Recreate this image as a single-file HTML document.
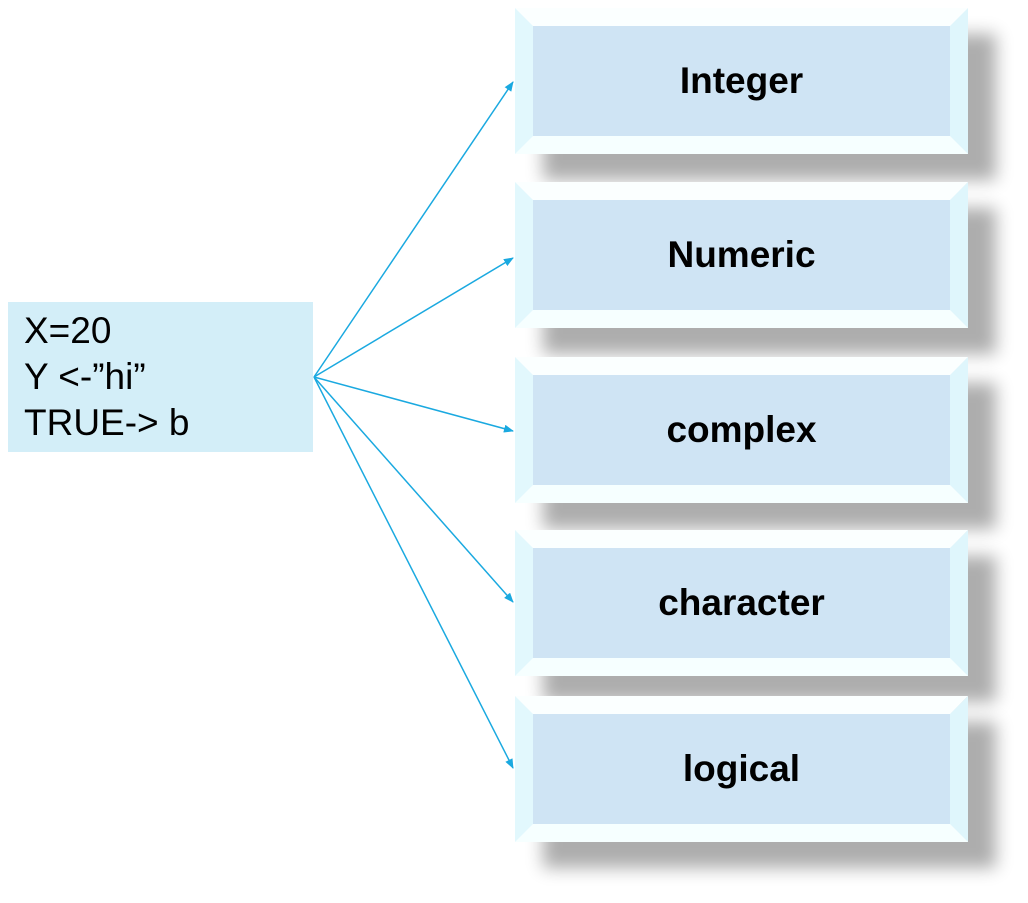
<!DOCTYPE html>
<html><head><style>
body{margin:0;width:1028px;height:903px;background:#fff;position:relative;overflow:hidden;font-family:"Liberation Sans",sans-serif}
.b{position:absolute;left:515px;width:453px;height:146px;box-shadow:28px 26px 16px rgba(0,0,0,0.32)}
.b svg{position:absolute;left:0;top:0}
.f{position:absolute;left:18px;top:18px;right:18px;bottom:18px;display:flex;align-items:center;justify-content:center;font-weight:bold;font-size:37px;color:#000}
.l{position:absolute;left:8px;top:302px;width:305px;height:150px;background:#d3eef8;font-size:37px;line-height:46px;box-sizing:border-box;padding:6px 0 0 16px}
</style></head><body>
<svg style="position:absolute;left:0;top:0" width="1028" height="903">
<defs><marker id="a" markerWidth="10" markerHeight="8" refX="9" refY="4" orient="auto" markerUnits="userSpaceOnUse"><path d="M0,0L10,4L0,8z" fill="#1aa9e0"/></marker></defs>
<g stroke="#1aa9e0" stroke-width="1.5" marker-end="url(#a)">
<line x1="314" y1="377" x2="513" y2="82"/>
<line x1="314" y1="377" x2="513" y2="258"/>
<line x1="314" y1="377" x2="513" y2="431"/>
<line x1="314" y1="377" x2="513" y2="602"/>
<line x1="314" y1="377" x2="513" y2="768"/>
</g></svg>
<div class="l">X=20<br>Y &lt;-”hi”<br>TRUE-&gt; b</div>
<template id="t"></template>
<div class="b" style="top:8px"><svg width="453" height="146"><polygon points="0,0 453,0 435,18 18,18" fill="#fbffff"/><polygon points="0,146 453,146 435,128 18,128" fill="#f6ffff"/><polygon points="0,0 18,18 18,128 0,146" fill="#e2f8fd"/><polygon points="453,0 435,18 435,128 453,146" fill="#dff6fc"/><rect x="18" y="18" width="417" height="110" fill="#cfe4f4"/></svg><div class="f">Integer</div></div>
<div class="b" style="top:182px"><svg width="453" height="146"><polygon points="0,0 453,0 435,18 18,18" fill="#fbffff"/><polygon points="0,146 453,146 435,128 18,128" fill="#f6ffff"/><polygon points="0,0 18,18 18,128 0,146" fill="#e2f8fd"/><polygon points="453,0 435,18 435,128 453,146" fill="#dff6fc"/><rect x="18" y="18" width="417" height="110" fill="#cfe4f4"/></svg><div class="f">Numeric</div></div>
<div class="b" style="top:357px"><svg width="453" height="146"><polygon points="0,0 453,0 435,18 18,18" fill="#fbffff"/><polygon points="0,146 453,146 435,128 18,128" fill="#f6ffff"/><polygon points="0,0 18,18 18,128 0,146" fill="#e2f8fd"/><polygon points="453,0 435,18 435,128 453,146" fill="#dff6fc"/><rect x="18" y="18" width="417" height="110" fill="#cfe4f4"/></svg><div class="f">complex</div></div>
<div class="b" style="top:530px"><svg width="453" height="146"><polygon points="0,0 453,0 435,18 18,18" fill="#fbffff"/><polygon points="0,146 453,146 435,128 18,128" fill="#f6ffff"/><polygon points="0,0 18,18 18,128 0,146" fill="#e2f8fd"/><polygon points="453,0 435,18 435,128 453,146" fill="#dff6fc"/><rect x="18" y="18" width="417" height="110" fill="#cfe4f4"/></svg><div class="f">character</div></div>
<div class="b" style="top:696px"><svg width="453" height="146"><polygon points="0,0 453,0 435,18 18,18" fill="#fbffff"/><polygon points="0,146 453,146 435,128 18,128" fill="#f6ffff"/><polygon points="0,0 18,18 18,128 0,146" fill="#e2f8fd"/><polygon points="453,0 435,18 435,128 453,146" fill="#dff6fc"/><rect x="18" y="18" width="417" height="110" fill="#cfe4f4"/></svg><div class="f">logical</div></div>
</body></html>
